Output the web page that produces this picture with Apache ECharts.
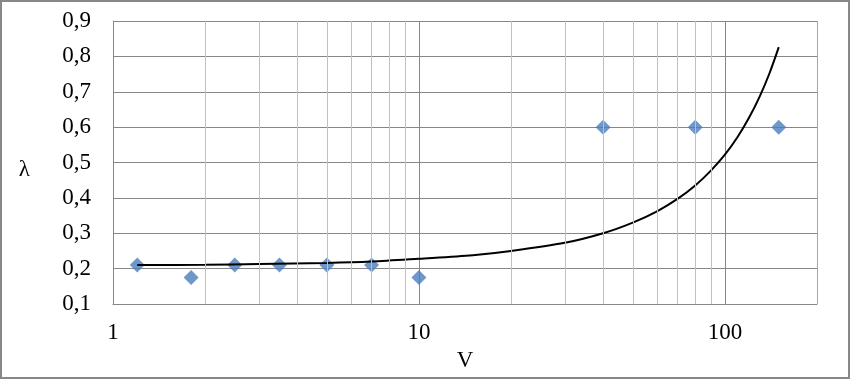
<!DOCTYPE html>
<html><head><meta charset="utf-8">
<script src="https://cdn.jsdelivr.net/npm/echarts@6/dist/echarts.min.js"></script>
<style>html,body{margin:0;padding:0;background:#fff;}#c{width:851px;height:380px;}</style>
</head><body><div id="c"></div>
<script>
// measured points
const pointsV = [1.2, 1.8, 2.5, 3.5, 5, 7, 10, 40, 80, 150];
const pointsL = [0.21, 0.175, 0.21, 0.21, 0.21, 0.21, 0.175, 0.6, 0.6, 0.6];
// trend curve
const trendV = [1.2, 2, 3, 5, 7, 10, 15, 20, 30, 40, 50, 60, 70, 80, 90, 100, 110, 120, 130, 140, 150];
const trendL = [0.210, 0.211, 0.213, 0.216, 0.220, 0.228, 0.238, 0.250, 0.273, 0.300, 0.330, 0.362, 0.397, 0.435, 0.477, 0.522, 0.572, 0.627, 0.687, 0.753, 0.826];
// minor vertical grid values
const minorGrid = [2, 3, 4, 5, 6, 7, 8, 9, 20, 30, 40, 50, 60, 70, 80, 90];
const xTickLabels = ['1', '10', '100'];

const font = '"Liberation Serif","Times New Roman",serif';
const fs = 23;
const chart = echarts.init(document.getElementById('c'), null, {renderer: 'canvas'});
chart.setOption({
  animation: false,
  backgroundColor: '#fff',
  grid: {left: 113, right: 34, top: 21, bottom: 76, show: false},
  graphic: [{type: 'rect', shape: {x: 1, y: 1, width: 848, height: 377}, style: {fill: 'none', stroke: '#878787', lineWidth: 2}, z: 100}],
  xAxis: {
    type: 'log', logBase: 10, min: 1, max: 200,
    name: 'V', nameLocation: 'middle', nameGap: 45,
    nameTextStyle: {fontFamily: font, fontSize: fs, color: '#000'},
    axisLine: {show: true, lineStyle: {color: '#878787', width: 1}},
    axisTick: {show: false},
    axisLabel: {fontFamily: font, fontSize: fs, color: '#000', margin: 17, showMaxLabel: false,
      formatter: v => xTickLabels.includes(String(v)) ? String(v) : ''},
    splitLine: {show: true, lineStyle: {color: '#878787', width: 1}}
  },
  yAxis: {
    type: 'value', min: 0.1, max: 0.9, interval: 0.1,
    name: '{a|λ}', nameLocation: 'middle', nameGap: 83, nameRotate: 0,
    nameTextStyle: {fontFamily: font, fontSize: fs, color: '#000',
      rich: {a: {fontFamily: font, fontSize: fs, color: '#000', padding: [14, 0, 0, 0]}}},
    axisLine: {show: true, lineStyle: {color: '#878787', width: 1}},
    axisTick: {show: false},
    axisLabel: {fontFamily: font, fontSize: fs, color: '#000', margin: 22,
      formatter: v => v.toFixed(1).replace('.', ',')},
    splitLine: {show: true, lineStyle: {color: '#878787', width: 1}}
  },
  series: [
    {
      type: 'line', data: [], z: 1, silent: true,
      markLine: {silent: true, symbol: 'none', label: {show: false},
        lineStyle: {color: '#c0c0c0', width: 1, type: 'solid'},
        data: minorGrid.map(v => ({xAxis: v})).concat([{xAxis: 200, lineStyle: {color: '#a6a6a6'}}])}
    },
    {
      type: 'line', data: trendV.map((v, i) => [v, trendL[i]]), smooth: 0.3,
      showSymbol: false, symbol: 'none', z: 4,
      lineStyle: {color: '#000', width: 2}
    },
    {
      type: 'scatter', data: pointsV.map((v, i) => [v, pointsL[i]]),
      symbol: 'diamond', symbolSize: 15, z: 3,
      itemStyle: {color: '#4a7ebb'}
    }
  ]
});
</script></body></html>
